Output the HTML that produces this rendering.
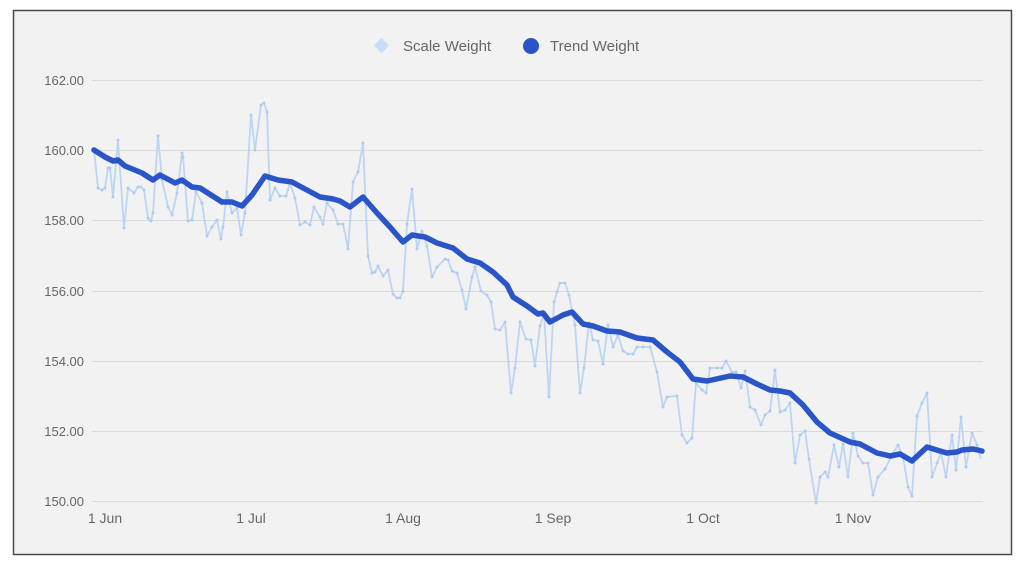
<!DOCTYPE html>
<html><head><meta charset="utf-8"><style>
html,body{margin:0;padding:0;background:#fff;}
svg{display:block;font-family:"Liberation Sans",Arial,sans-serif;}
</style></head><body>
<svg width="1024" height="567" viewBox="0 0 1024 567" xmlns="http://www.w3.org/2000/svg">
<defs>
<marker id="dot" markerWidth="4" markerHeight="4" refX="2" refY="2" markerUnits="userSpaceOnUse">
<circle cx="2" cy="2" r="1.5" fill="#aecbf1"/>
</marker>
</defs>
<rect x="0" y="0" width="1024" height="567" fill="#ffffff"/>
<rect x="13.5" y="10.5" width="998" height="544" fill="#f2f2f2" stroke="#4a4a4a" stroke-width="1.5"/>
<g stroke="#d9d9d9" stroke-width="1">
<line x1="92" y1="80.5" x2="983" y2="80.5"/>
<line x1="92" y1="150.5" x2="983" y2="150.5"/>
<line x1="92" y1="220.5" x2="983" y2="220.5"/>
<line x1="92" y1="291.5" x2="983" y2="291.5"/>
<line x1="92" y1="361.5" x2="983" y2="361.5"/>
<line x1="92" y1="431.5" x2="983" y2="431.5"/>
<line x1="92" y1="501.5" x2="983" y2="501.5"/>
</g>
<g fill="#666" font-size="13" text-anchor="end">
<text x="84" y="85">162.00</text>
<text x="84" y="155">160.00</text>
<text x="84" y="225">158.00</text>
<text x="84" y="296">156.00</text>
<text x="84" y="366">154.00</text>
<text x="84" y="436">152.00</text>
<text x="84" y="506">150.00</text>
</g>
<g fill="#666" font-size="14" text-anchor="middle">
<text x="105" y="523">1 Jun</text>
<text x="251" y="523">1 Jul</text>
<text x="403" y="523">1 Aug</text>
<text x="553" y="523">1 Sep</text>
<text x="703" y="523">1 Oct</text>
<text x="853" y="523">1 Nov</text>
</g>
<!-- legend -->
<rect x="376" y="40" width="11" height="11" fill="#c8ddf7" transform="rotate(45 381.5 45.5)"/>
<text x="403" y="51" fill="#666" font-size="15">Scale Weight</text>
<circle cx="531" cy="46" r="8" fill="#2a55c8"/>
<text x="550" y="51" fill="#666" font-size="15">Trend Weight</text>
<!-- scale weight -->
<polyline fill="none" stroke="#bcd5f4" stroke-width="1.8" stroke-linejoin="round" marker-mid="url(#dot)" points="94,150 98,188 102,190 105,188 108,168 110,168 113,197 118,140 124,228 128,188 134,193 138,187 141,187 144,190 148,218 151,221 153,213 158,136 162,180 168,207 172,215 177,193 182,153 183,157 188,221 192,220 196,192 202,203 207,236 212,227 217,220 221,239 223,227 227,192 232,213 237,208 241,235 245,213 251,115 255,150 261,105 264,103 267,112 270,200 275,188 280,196 286,196 290,183 295,198 300,225 305,222 310,225 314,207 320,217 323,224 327,203 333,210 338,224 343,224 348,249 353,182 358,172 363,143 368,256 372,273 375,272 378,266 383,276 388,270 393,294 397,298 400,298 403,291 407,224 412,189 417,249 422,231 427,246 432,277 437,267 445,259 448,260 452,271 457,273 462,290 466,309 472,277 475,267 481,291 487,295 491,302 495,329 500,330 505,322 511,393 515,368 520,322 526,339 531,340 535,366 540,326 544,313 549,397 554,302 557,292 560,283 565,283 569,295 575,325 580,393 584,368 589,323 593,340 598,341 603,364 608,325 613,347 618,335 623,351 628,354 633,354 637,347 643,347 650,347 657,372 663,407 667,397 677,396 682,435 687,443 692,438 696,383 702,390 706,393 710,368 717,368 722,368 726,361 732,372 736,372 741,388 745,371 750,407 755,410 761,425 765,415 770,411 775,370 780,412 785,410 790,403 795,463 800,435 805,431 809,459 816,503 820,477 825,472 828,477 834,445 839,467 843,444 848,477 853,433 858,456 863,463 868,463 873,495 878,477 885,469 892,455 898,445 903,457 908,487 912,496 917,416 922,403 927,393 932,477 937,463 941,453 946,477 952,435 956,470 961,417 966,467 972,433 977,445 981,459"/>
<!-- trend weight -->
<polyline fill="none" stroke="#2a55c8" stroke-width="5.5" stroke-linejoin="round" stroke-linecap="round" points="94,150 105,157 113,161 118,160 125,166 142,173 153,180 160,175 175,183 182,180 192,187 200,188 222,202 232,202 242,206 252,195 265,176 278,180 292,182 305,189 320,197 333,199 340,201 350,207 363,197 377,213 390,227 403,242 412,235 425,237 437,243 453,248 467,259 480,263 493,272 507,285 513,297 527,306 538,314 543,313 550,322 563,315 572,312 583,324 593,326 607,331 620,332 637,338 653,340 667,352 680,362 693,379 707,381 730,376 743,377 757,384 770,390 780,391 790,393 803,405 817,422 830,433 850,442 860,444 877,453 890,456 900,454 912,461 927,447 940,451 947,453 957,452 962,450 973,449 982,451"/>
</svg>
</body></html>
